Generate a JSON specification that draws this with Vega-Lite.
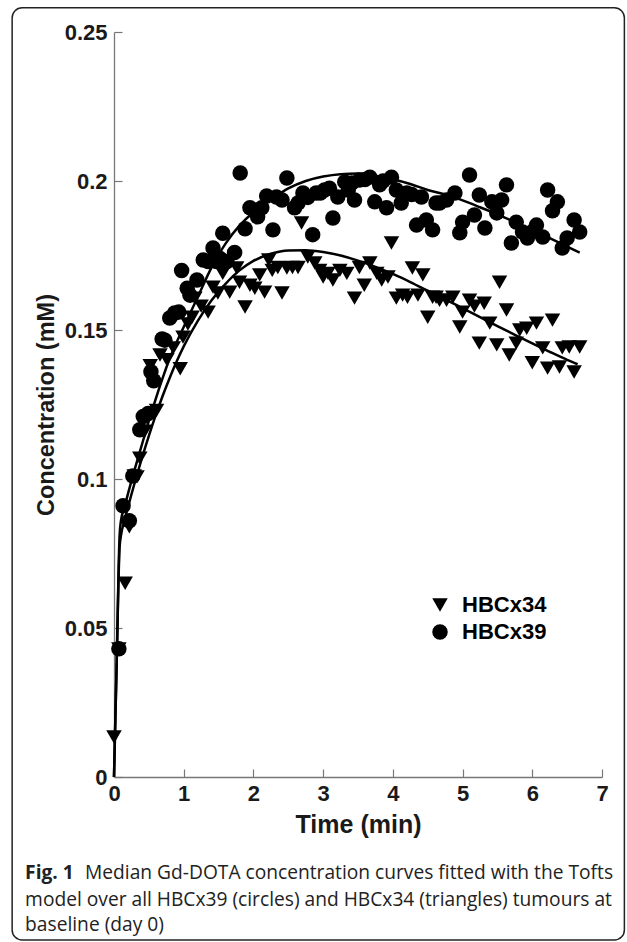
{
  "$schema": "https://vega.github.io/schema/vega-lite/v6.json",
  "autosize": "none",
  "width": 488,
  "height": 745,
  "padding": {"left": 114, "top": 32, "right": 25, "bottom": 165},
  "background": "white",
  "config": {
    "view": {"stroke": null},
    "axis": {
      "grid": false,
      "domain": true,
      "domainColor": "#777777",
      "tickColor": "#777777",
      "domainWidth": 1.3,
      "tickWidth": 1.2,
      "tickSize": -8,
      "labelFlush": false,
      "labelOverlap": false,
      "labelFont": "Liberation Sans",
      "labelFontWeight": "bold",
      "labelFontSize": 22,
      "labelColor": "#1a1a1a",
      "titleFont": "Liberation Sans",
      "titleFontWeight": "bold",
      "titleFontSize": 25,
      "titleColor": "#1a1a1a"
    }
  },
  "datasets": {
    "obs": [
      {"t": 0.07, "c": 0.043, "tumour": "HBCx39"},
      {"t": 0.13, "c": 0.091, "tumour": "HBCx39"},
      {"t": 0.22, "c": 0.086, "tumour": "HBCx39"},
      {"t": 0.27, "c": 0.101, "tumour": "HBCx39"},
      {"t": 0.37, "c": 0.1165, "tumour": "HBCx39"},
      {"t": 0.42, "c": 0.121, "tumour": "HBCx39"},
      {"t": 0.49, "c": 0.122, "tumour": "HBCx39"},
      {"t": 0.53, "c": 0.136, "tumour": "HBCx39"},
      {"t": 0.57, "c": 0.133, "tumour": "HBCx39"},
      {"t": 0.69, "c": 0.147, "tumour": "HBCx39"},
      {"t": 0.73, "c": 0.1466, "tumour": "HBCx39"},
      {"t": 0.8, "c": 0.154, "tumour": "HBCx39"},
      {"t": 0.87, "c": 0.1557, "tumour": "HBCx39"},
      {"t": 0.93, "c": 0.156, "tumour": "HBCx39"},
      {"t": 0.97, "c": 0.17, "tumour": "HBCx39"},
      {"t": 1.05, "c": 0.164, "tumour": "HBCx39"},
      {"t": 1.09, "c": 0.1617, "tumour": "HBCx39"},
      {"t": 1.19, "c": 0.1668, "tumour": "HBCx39"},
      {"t": 1.28, "c": 0.1735, "tumour": "HBCx39"},
      {"t": 1.35, "c": 0.173, "tumour": "HBCx39"},
      {"t": 1.42, "c": 0.1775, "tumour": "HBCx39"},
      {"t": 1.47, "c": 0.173, "tumour": "HBCx39"},
      {"t": 1.52, "c": 0.174, "tumour": "HBCx39"},
      {"t": 1.56, "c": 0.1825, "tumour": "HBCx39"},
      {"t": 1.62, "c": 0.173, "tumour": "HBCx39"},
      {"t": 1.73, "c": 0.176, "tumour": "HBCx39"},
      {"t": 1.81, "c": 0.2027, "tumour": "HBCx39"},
      {"t": 1.88, "c": 0.184, "tumour": "HBCx39"},
      {"t": 1.95, "c": 0.191, "tumour": "HBCx39"},
      {"t": 2.06, "c": 0.188, "tumour": "HBCx39"},
      {"t": 2.12, "c": 0.191, "tumour": "HBCx39"},
      {"t": 2.19, "c": 0.195, "tumour": "HBCx39"},
      {"t": 2.28, "c": 0.1836, "tumour": "HBCx39"},
      {"t": 2.33, "c": 0.1946, "tumour": "HBCx39"},
      {"t": 2.41, "c": 0.1936, "tumour": "HBCx39"},
      {"t": 2.48, "c": 0.201, "tumour": "HBCx39"},
      {"t": 2.59, "c": 0.191, "tumour": "HBCx39"},
      {"t": 2.64, "c": 0.1926, "tumour": "HBCx39"},
      {"t": 2.71, "c": 0.196, "tumour": "HBCx39"},
      {"t": 2.78, "c": 0.1945, "tumour": "HBCx39"},
      {"t": 2.85, "c": 0.182, "tumour": "HBCx39"},
      {"t": 2.9, "c": 0.196, "tumour": "HBCx39"},
      {"t": 2.96, "c": 0.196, "tumour": "HBCx39"},
      {"t": 3.02, "c": 0.197, "tumour": "HBCx39"},
      {"t": 3.09, "c": 0.1976, "tumour": "HBCx39"},
      {"t": 3.14, "c": 0.1876, "tumour": "HBCx39"},
      {"t": 3.21, "c": 0.1946, "tumour": "HBCx39"},
      {"t": 3.31, "c": 0.1997, "tumour": "HBCx39"},
      {"t": 3.36, "c": 0.197, "tumour": "HBCx39"},
      {"t": 3.41, "c": 0.1993, "tumour": "HBCx39"},
      {"t": 3.45, "c": 0.1936, "tumour": "HBCx39"},
      {"t": 3.52, "c": 0.2003, "tumour": "HBCx39"},
      {"t": 3.6, "c": 0.2005, "tumour": "HBCx39"},
      {"t": 3.67, "c": 0.2013, "tumour": "HBCx39"},
      {"t": 3.74, "c": 0.193, "tumour": "HBCx39"},
      {"t": 3.81, "c": 0.1987, "tumour": "HBCx39"},
      {"t": 3.86, "c": 0.2, "tumour": "HBCx39"},
      {"t": 3.91, "c": 0.191, "tumour": "HBCx39"},
      {"t": 3.98, "c": 0.2013, "tumour": "HBCx39"},
      {"t": 4.05, "c": 0.197, "tumour": "HBCx39"},
      {"t": 4.12, "c": 0.1926, "tumour": "HBCx39"},
      {"t": 4.2, "c": 0.196, "tumour": "HBCx39"},
      {"t": 4.27, "c": 0.1955, "tumour": "HBCx39"},
      {"t": 4.34, "c": 0.1852, "tumour": "HBCx39"},
      {"t": 4.41, "c": 0.1946, "tumour": "HBCx39"},
      {"t": 4.48, "c": 0.1869, "tumour": "HBCx39"},
      {"t": 4.57, "c": 0.1836, "tumour": "HBCx39"},
      {"t": 4.62, "c": 0.1926, "tumour": "HBCx39"},
      {"t": 4.67, "c": 0.1926, "tumour": "HBCx39"},
      {"t": 4.77, "c": 0.1936, "tumour": "HBCx39"},
      {"t": 4.89, "c": 0.196, "tumour": "HBCx39"},
      {"t": 4.96, "c": 0.1826, "tumour": "HBCx39"},
      {"t": 5.0, "c": 0.1862, "tumour": "HBCx39"},
      {"t": 5.1, "c": 0.202, "tumour": "HBCx39"},
      {"t": 5.17, "c": 0.1886, "tumour": "HBCx39"},
      {"t": 5.24, "c": 0.1953, "tumour": "HBCx39"},
      {"t": 5.32, "c": 0.1842, "tumour": "HBCx39"},
      {"t": 5.42, "c": 0.193, "tumour": "HBCx39"},
      {"t": 5.49, "c": 0.1893, "tumour": "HBCx39"},
      {"t": 5.56, "c": 0.1936, "tumour": "HBCx39"},
      {"t": 5.63, "c": 0.1987, "tumour": "HBCx39"},
      {"t": 5.7, "c": 0.1792, "tumour": "HBCx39"},
      {"t": 5.77, "c": 0.1862, "tumour": "HBCx39"},
      {"t": 5.86, "c": 0.1829, "tumour": "HBCx39"},
      {"t": 5.93, "c": 0.1809, "tumour": "HBCx39"},
      {"t": 6.0, "c": 0.183, "tumour": "HBCx39"},
      {"t": 6.06, "c": 0.1852, "tumour": "HBCx39"},
      {"t": 6.15, "c": 0.1812, "tumour": "HBCx39"},
      {"t": 6.22, "c": 0.197, "tumour": "HBCx39"},
      {"t": 6.29, "c": 0.19, "tumour": "HBCx39"},
      {"t": 6.36, "c": 0.193, "tumour": "HBCx39"},
      {"t": 6.43, "c": 0.1775, "tumour": "HBCx39"},
      {"t": 6.5, "c": 0.1809, "tumour": "HBCx39"},
      {"t": 6.6, "c": 0.1869, "tumour": "HBCx39"},
      {"t": 6.68, "c": 0.1829, "tumour": "HBCx39"},
      {"t": 0.0, "c": 0.0134, "tumour": "HBCx34"},
      {"t": 0.07, "c": 0.043, "tumour": "HBCx34"},
      {"t": 0.16, "c": 0.065, "tumour": "HBCx34"},
      {"t": 0.22, "c": 0.084, "tumour": "HBCx34"},
      {"t": 0.29, "c": 0.101, "tumour": "HBCx34"},
      {"t": 0.33, "c": 0.1007, "tumour": "HBCx34"},
      {"t": 0.37, "c": 0.107, "tumour": "HBCx34"},
      {"t": 0.44, "c": 0.116, "tumour": "HBCx34"},
      {"t": 0.52, "c": 0.138, "tumour": "HBCx34"},
      {"t": 0.61, "c": 0.123, "tumour": "HBCx34"},
      {"t": 0.66, "c": 0.1416, "tumour": "HBCx34"},
      {"t": 0.76, "c": 0.14, "tumour": "HBCx34"},
      {"t": 0.85, "c": 0.144, "tumour": "HBCx34"},
      {"t": 0.95, "c": 0.137, "tumour": "HBCx34"},
      {"t": 0.99, "c": 0.1476, "tumour": "HBCx34"},
      {"t": 1.06, "c": 0.152, "tumour": "HBCx34"},
      {"t": 1.12, "c": 0.1543, "tumour": "HBCx34"},
      {"t": 1.16, "c": 0.1607, "tumour": "HBCx34"},
      {"t": 1.25, "c": 0.158, "tumour": "HBCx34"},
      {"t": 1.35, "c": 0.156, "tumour": "HBCx34"},
      {"t": 1.42, "c": 0.1644, "tumour": "HBCx34"},
      {"t": 1.49, "c": 0.1624, "tumour": "HBCx34"},
      {"t": 1.56, "c": 0.169, "tumour": "HBCx34"},
      {"t": 1.66, "c": 0.1627, "tumour": "HBCx34"},
      {"t": 1.76, "c": 0.1708, "tumour": "HBCx34"},
      {"t": 1.8, "c": 0.166, "tumour": "HBCx34"},
      {"t": 1.88, "c": 0.1577, "tumour": "HBCx34"},
      {"t": 1.95, "c": 0.165, "tumour": "HBCx34"},
      {"t": 2.02, "c": 0.164, "tumour": "HBCx34"},
      {"t": 2.09, "c": 0.1685, "tumour": "HBCx34"},
      {"t": 2.16, "c": 0.1627, "tumour": "HBCx34"},
      {"t": 2.22, "c": 0.1735, "tumour": "HBCx34"},
      {"t": 2.27, "c": 0.17, "tumour": "HBCx34"},
      {"t": 2.35, "c": 0.171, "tumour": "HBCx34"},
      {"t": 2.41, "c": 0.1624, "tumour": "HBCx34"},
      {"t": 2.48, "c": 0.1708, "tumour": "HBCx34"},
      {"t": 2.56, "c": 0.171, "tumour": "HBCx34"},
      {"t": 2.64, "c": 0.171, "tumour": "HBCx34"},
      {"t": 2.69, "c": 0.1859, "tumour": "HBCx34"},
      {"t": 2.78, "c": 0.1745, "tumour": "HBCx34"},
      {"t": 2.88, "c": 0.1725, "tumour": "HBCx34"},
      {"t": 2.95, "c": 0.17, "tumour": "HBCx34"},
      {"t": 3.0, "c": 0.1678, "tumour": "HBCx34"},
      {"t": 3.07, "c": 0.169, "tumour": "HBCx34"},
      {"t": 3.14, "c": 0.1668, "tumour": "HBCx34"},
      {"t": 3.24, "c": 0.17, "tumour": "HBCx34"},
      {"t": 3.34, "c": 0.169, "tumour": "HBCx34"},
      {"t": 3.45, "c": 0.1607, "tumour": "HBCx34"},
      {"t": 3.52, "c": 0.171, "tumour": "HBCx34"},
      {"t": 3.59, "c": 0.165, "tumour": "HBCx34"},
      {"t": 3.67, "c": 0.1725, "tumour": "HBCx34"},
      {"t": 3.77, "c": 0.169, "tumour": "HBCx34"},
      {"t": 3.84, "c": 0.1668, "tumour": "HBCx34"},
      {"t": 3.93, "c": 0.1678, "tumour": "HBCx34"},
      {"t": 3.98, "c": 0.1792, "tumour": "HBCx34"},
      {"t": 4.05, "c": 0.1607, "tumour": "HBCx34"},
      {"t": 4.14, "c": 0.1617, "tumour": "HBCx34"},
      {"t": 4.21, "c": 0.161, "tumour": "HBCx34"},
      {"t": 4.28, "c": 0.1708, "tumour": "HBCx34"},
      {"t": 4.36, "c": 0.1617, "tumour": "HBCx34"},
      {"t": 4.43, "c": 0.1685, "tumour": "HBCx34"},
      {"t": 4.5, "c": 0.1543, "tumour": "HBCx34"},
      {"t": 4.57, "c": 0.161, "tumour": "HBCx34"},
      {"t": 4.62, "c": 0.161, "tumour": "HBCx34"},
      {"t": 4.67, "c": 0.16, "tumour": "HBCx34"},
      {"t": 4.77, "c": 0.16, "tumour": "HBCx34"},
      {"t": 4.86, "c": 0.161, "tumour": "HBCx34"},
      {"t": 4.96, "c": 0.151, "tumour": "HBCx34"},
      {"t": 5.0, "c": 0.156, "tumour": "HBCx34"},
      {"t": 5.1, "c": 0.16, "tumour": "HBCx34"},
      {"t": 5.17, "c": 0.158, "tumour": "HBCx34"},
      {"t": 5.24, "c": 0.1456, "tumour": "HBCx34"},
      {"t": 5.31, "c": 0.159, "tumour": "HBCx34"},
      {"t": 5.39, "c": 0.1523, "tumour": "HBCx34"},
      {"t": 5.49, "c": 0.145, "tumour": "HBCx34"},
      {"t": 5.53, "c": 0.166, "tumour": "HBCx34"},
      {"t": 5.63, "c": 0.1567, "tumour": "HBCx34"},
      {"t": 5.67, "c": 0.1416, "tumour": "HBCx34"},
      {"t": 5.77, "c": 0.1456, "tumour": "HBCx34"},
      {"t": 5.82, "c": 0.15, "tumour": "HBCx34"},
      {"t": 5.92, "c": 0.1506, "tumour": "HBCx34"},
      {"t": 6.0, "c": 0.139, "tumour": "HBCx34"},
      {"t": 6.06, "c": 0.1523, "tumour": "HBCx34"},
      {"t": 6.15, "c": 0.144, "tumour": "HBCx34"},
      {"t": 6.22, "c": 0.1372, "tumour": "HBCx34"},
      {"t": 6.29, "c": 0.1533, "tumour": "HBCx34"},
      {"t": 6.39, "c": 0.1376, "tumour": "HBCx34"},
      {"t": 6.43, "c": 0.144, "tumour": "HBCx34"},
      {"t": 6.53, "c": 0.1443, "tumour": "HBCx34"},
      {"t": 6.6, "c": 0.1359, "tumour": "HBCx34"},
      {"t": 6.68, "c": 0.1443, "tumour": "HBCx34"}
    ],
    "fit": [
      {"t": 0, "c": 0, "tumour": "HBCx39"},
      {"t": 0.04, "c": 0.04, "tumour": "HBCx39"},
      {"t": 0.08, "c": 0.081, "tumour": "HBCx39"},
      {"t": 0.1, "c": 0.086, "tumour": "HBCx39"},
      {"t": 0.15, "c": 0.0905, "tumour": "HBCx39"},
      {"t": 0.2, "c": 0.095, "tumour": "HBCx39"},
      {"t": 0.3, "c": 0.1035, "tumour": "HBCx39"},
      {"t": 0.4, "c": 0.1115, "tumour": "HBCx39"},
      {"t": 0.5, "c": 0.1195, "tumour": "HBCx39"},
      {"t": 0.6, "c": 0.127, "tumour": "HBCx39"},
      {"t": 0.7, "c": 0.134, "tumour": "HBCx39"},
      {"t": 0.8, "c": 0.1405, "tumour": "HBCx39"},
      {"t": 0.9, "c": 0.146, "tumour": "HBCx39"},
      {"t": 1.0, "c": 0.151, "tumour": "HBCx39"},
      {"t": 1.2, "c": 0.161, "tumour": "HBCx39"},
      {"t": 1.4, "c": 0.171, "tumour": "HBCx39"},
      {"t": 1.6, "c": 0.179, "tumour": "HBCx39"},
      {"t": 1.8, "c": 0.185, "tumour": "HBCx39"},
      {"t": 2.0, "c": 0.1895, "tumour": "HBCx39"},
      {"t": 2.25, "c": 0.1937, "tumour": "HBCx39"},
      {"t": 2.5, "c": 0.1975, "tumour": "HBCx39"},
      {"t": 2.75, "c": 0.2, "tumour": "HBCx39"},
      {"t": 3.0, "c": 0.2015, "tumour": "HBCx39"},
      {"t": 3.25, "c": 0.2023, "tumour": "HBCx39"},
      {"t": 3.5, "c": 0.2025, "tumour": "HBCx39"},
      {"t": 3.75, "c": 0.2018, "tumour": "HBCx39"},
      {"t": 4.0, "c": 0.2006, "tumour": "HBCx39"},
      {"t": 4.25, "c": 0.199, "tumour": "HBCx39"},
      {"t": 4.5, "c": 0.197, "tumour": "HBCx39"},
      {"t": 4.75, "c": 0.1955, "tumour": "HBCx39"},
      {"t": 5.0, "c": 0.1935, "tumour": "HBCx39"},
      {"t": 5.25, "c": 0.1912, "tumour": "HBCx39"},
      {"t": 5.5, "c": 0.1888, "tumour": "HBCx39"},
      {"t": 5.75, "c": 0.1862, "tumour": "HBCx39"},
      {"t": 6.0, "c": 0.1835, "tumour": "HBCx39"},
      {"t": 6.25, "c": 0.1808, "tumour": "HBCx39"},
      {"t": 6.5, "c": 0.178, "tumour": "HBCx39"},
      {"t": 6.68, "c": 0.176, "tumour": "HBCx39"},
      {"t": 0, "c": 0, "tumour": "HBCx34"},
      {"t": 0.04, "c": 0.04, "tumour": "HBCx34"},
      {"t": 0.08, "c": 0.077, "tumour": "HBCx34"},
      {"t": 0.1, "c": 0.081, "tumour": "HBCx34"},
      {"t": 0.15, "c": 0.086, "tumour": "HBCx34"},
      {"t": 0.2, "c": 0.0905, "tumour": "HBCx34"},
      {"t": 0.3, "c": 0.099, "tumour": "HBCx34"},
      {"t": 0.4, "c": 0.107, "tumour": "HBCx34"},
      {"t": 0.5, "c": 0.1145, "tumour": "HBCx34"},
      {"t": 0.6, "c": 0.1215, "tumour": "HBCx34"},
      {"t": 0.7, "c": 0.128, "tumour": "HBCx34"},
      {"t": 0.8, "c": 0.134, "tumour": "HBCx34"},
      {"t": 0.9, "c": 0.1395, "tumour": "HBCx34"},
      {"t": 1.0, "c": 0.1445, "tumour": "HBCx34"},
      {"t": 1.2, "c": 0.153, "tumour": "HBCx34"},
      {"t": 1.4, "c": 0.16, "tumour": "HBCx34"},
      {"t": 1.6, "c": 0.1655, "tumour": "HBCx34"},
      {"t": 1.8, "c": 0.17, "tumour": "HBCx34"},
      {"t": 2.0, "c": 0.1732, "tumour": "HBCx34"},
      {"t": 2.25, "c": 0.1756, "tumour": "HBCx34"},
      {"t": 2.5, "c": 0.1767, "tumour": "HBCx34"},
      {"t": 2.75, "c": 0.1768, "tumour": "HBCx34"},
      {"t": 3.0, "c": 0.1762, "tumour": "HBCx34"},
      {"t": 3.25, "c": 0.175, "tumour": "HBCx34"},
      {"t": 3.5, "c": 0.1733, "tumour": "HBCx34"},
      {"t": 3.75, "c": 0.1712, "tumour": "HBCx34"},
      {"t": 4.0, "c": 0.1688, "tumour": "HBCx34"},
      {"t": 4.25, "c": 0.1661, "tumour": "HBCx34"},
      {"t": 4.5, "c": 0.1632, "tumour": "HBCx34"},
      {"t": 4.75, "c": 0.1603, "tumour": "HBCx34"},
      {"t": 5.0, "c": 0.1573, "tumour": "HBCx34"},
      {"t": 5.25, "c": 0.1543, "tumour": "HBCx34"},
      {"t": 5.5, "c": 0.1513, "tumour": "HBCx34"},
      {"t": 5.75, "c": 0.1484, "tumour": "HBCx34"},
      {"t": 6.0, "c": 0.1455, "tumour": "HBCx34"},
      {"t": 6.25, "c": 0.1427, "tumour": "HBCx34"},
      {"t": 6.5, "c": 0.14, "tumour": "HBCx34"},
      {"t": 6.65, "c": 0.1385, "tumour": "HBCx34"}
    ],
    "caption": [
      {"bold": "Fig. 1", "l1": "Median Gd-DOTA concentration curves fitted with the Tofts", "l2": "model over all HBCx39 (circles) and HBCx34 (triangles) tumours at", "l3": "baseline (day 0)"}
    ]
  },
  "layer": [
    {
      "data": {"name": "obs"},
      "mark": {"type": "point", "filled": true, "size": 240, "opacity": 1, "color": "black", "strokeWidth": 0},
      "encoding": {
        "x": {"field": "t", "type": "quantitative", "scale": {"domain": [0, 7], "nice": false, "zero": false},
              "axis": {"title": "Time (min)", "values": [0, 1, 2, 3, 4, 5, 6, 7], "format": "~g", "domain": true, "labelPadding": 14, "titlePadding": 8}},
        "y": {"field": "c", "type": "quantitative", "scale": {"domain": [0, 0.25], "nice": false, "zero": false},
              "axis": {"title": "Concentration (mM)", "titleFontSize": 23.5, "values": [0, 0.05, 0.1, 0.15, 0.2, 0.25], "format": "~g", "labelPadding": 15, "titlePadding": 6}},
        "shape": {"field": "tumour", "type": "nominal",
                  "scale": {"domain": ["HBCx34", "HBCx39"], "range": ["triangle-down", "circle"]},
                  "legend": {"title": null, "orient": "none", "legendX": 315, "legendY": 562, "padding": 0,
                             "symbolSize": 240, "symbolFillColor": "black", "symbolStrokeWidth": 0,
                             "labelFont": "Liberation Sans", "labelFontWeight": "bold", "labelFontSize": 22,
                             "labelColor": "black", "labelOffset": 11, "rowPadding": 5}}
      }
    },
    {
      "data": {"name": "fit"},
      "mark": {"type": "line", "color": "black", "strokeWidth": 2.5, "interpolate": "monotone"},
      "encoding": {
        "x": {"field": "t", "type": "quantitative"},
        "y": {"field": "c", "type": "quantitative"},
        "detail": {"field": "tumour", "type": "nominal"}
      }
    },
    {
      "data": {"name": "caption"},
      "mark": {"type": "rect", "fillOpacity": 0, "fill": "white", "stroke": "#222", "strokeWidth": 1.5, "cornerRadius": 10, "clip": false},
      "encoding": {
        "x": {"datum": -1.461},
        "x2": {"datum": 7.321},
        "y": {"datum": 0.2581},
        "y2": {"datum": -0.0547}
      }
    },
    {
      "data": {"name": "caption"},
      "mark": {"type": "text", "align": "left", "baseline": "alphabetic", "font": "Open Sans", "fontWeight": "bold", "fontSize": 19.2, "color": "#222"},
      "encoding": {
        "x": {"datum": -1.275},
        "y": {"datum": -0.03423},
        "text": {"field": "bold"}
      }
    },
    {
      "data": {"name": "caption"},
      "mark": {"type": "text", "align": "left", "baseline": "alphabetic", "font": "Open Sans", "fontSize": 19.2, "color": "#222"},
      "encoding": {
        "x": {"datum": -0.415},
        "y": {"datum": -0.03423},
        "text": {"field": "l1"}
      }
    },
    {
      "data": {"name": "caption"},
      "mark": {"type": "text", "align": "left", "baseline": "alphabetic", "font": "Open Sans", "fontSize": 19.2, "color": "#222"},
      "encoding": {
        "x": {"datum": -1.275},
        "y": {"datum": -0.04329},
        "text": {"field": "l2"}
      }
    },
    {
      "data": {"name": "caption"},
      "mark": {"type": "text", "align": "left", "baseline": "alphabetic", "font": "Open Sans", "fontSize": 19.2, "color": "#222"},
      "encoding": {
        "x": {"datum": -1.275},
        "y": {"datum": -0.05168},
        "text": {"field": "l3"}
      }
    }
  ]
}
